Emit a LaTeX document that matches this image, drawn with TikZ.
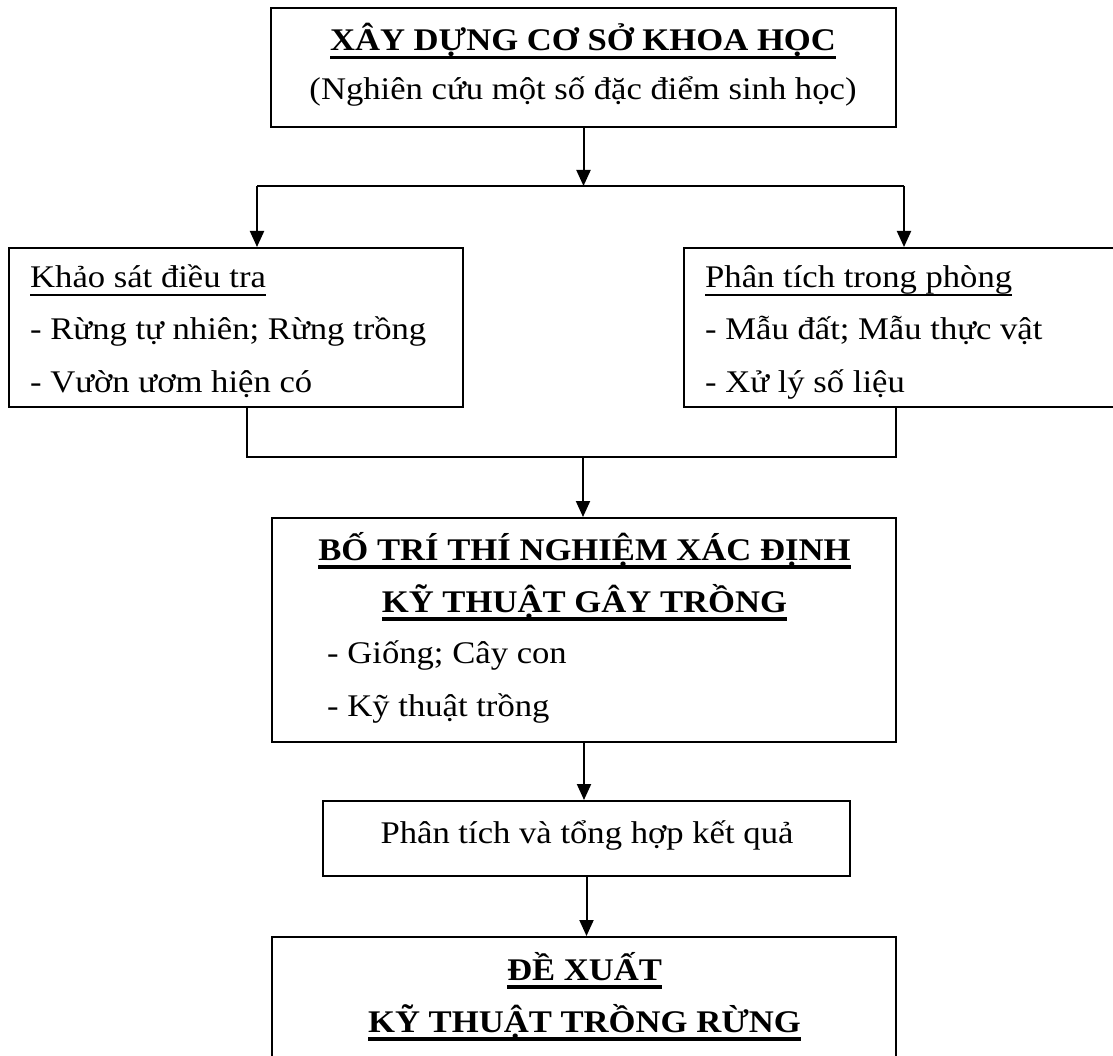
\documentclass[tikz,border=0pt]{standalone}
\usepackage{fontspec}
\setmainfont{Liberation Serif}[FakeStretch=1.1]
\usetikzlibrary{arrows.meta}
\newsavebox\myulbox
% #1 = gap below baseline, #2 = thickness, #3 = text
\newcommand\myul[3]{\sbox\myulbox{#3}\rlap{\vrule height -#1 depth \dimexpr #1+#2\relax width \wd\myulbox}\usebox\myulbox}
\newcommand\bul[1]{\myul{5pt}{3.5pt}{#1}}
\newcommand\rul[1]{\myul{6pt}{2pt}{#1}}
\begin{document}
\begin{tikzpicture}[x=1pt,y=-1pt,
  box/.style={draw, line width=2pt, inner sep=0pt},
  txt/.style={inner sep=0pt, font=\fontsize{31.5}{40}\selectfont},
  btxt/.style={txt, font=\fontsize{31.5}{40}\selectfont\bfseries},
  arr/.style={line width=2pt, -{Triangle[length=16pt,width=14pt]}},
  ln/.style={line width=2pt}]
\useasboundingbox (0,0) rectangle (1113,1056);
\clip (0,0) rectangle (1113,1056);
% boxes
\node[box, minimum width=625pt, minimum height=119pt] (T) at (583.5,67.5) {};
\node[box, minimum width=454.5pt, minimum height=159pt] (L) at (235.75,327.5) {};
\node[box, minimum width=446pt, minimum height=159pt] (R) at (907,327.5) {};
\node[box, minimum width=624pt, minimum height=224pt] (M) at (584,630) {};
\node[box, minimum width=527pt, minimum height=75pt] (S) at (586.5,838.5) {};
\node[box, minimum width=624pt, minimum height=143pt] (B) at (584,1008.5) {};
% texts
\node[btxt, anchor=base] (t1) at (583,51) {\bul{XÂY DỰNG CƠ SỞ KHOA HỌC}};
\node[txt, anchor=base] (t2) at (583,100) {(Nghiên cứu một số đặc điểm sinh học)};
\node[txt, anchor=base west] (l1) at (30,288) {\rul{Khảo sát điều tra}};
\node[txt, anchor=base west] (l2) at (30,340) {- Rừng tự nhiên; Rừng trồng};
\node[txt, anchor=base west] (l3) at (30,392) {- Vườn ươm hiện có};
\node[txt, anchor=base west] (r1) at (705,288) {\rul{Phân tích trong phòng}};
\node[txt, anchor=base west] (r2) at (705,340) {- Mẫu đất; Mẫu thực vật};
\node[txt, anchor=base west] (r3) at (705,392) {- Xử lý số liệu};
\node[btxt, anchor=base] (m1) at (584.5,560) {\bul{BỐ TRÍ THÍ NGHIỆM XÁC ĐỊNH}};
\node[btxt, anchor=base] (m2) at (584.5,612) {\bul{KỸ THUẬT GÂY TRỒNG}};
\node[txt, anchor=base west] (m3) at (327,663) {- Giống; Cây con};
\node[txt, anchor=base west] (m4) at (327,716) {- Kỹ thuật trồng};
\node[txt, anchor=base] (s1) at (587,843) {Phân tích và tổng hợp kết quả};
\node[btxt, anchor=base] (b1) at (584.5,980) {\bul{ĐỀ XUẤT}};
\node[btxt, anchor=base] (b2) at (584.5,1032) {\bul{KỸ THUẬT TRỒNG RỪNG}};
% connectors
\coordinate (jl) at (257,186);
\coordinate (jr) at (904,186);
\draw[arr] (T.south) -- (T.south |- jl);
\draw[ln] (jl) -- (jr);
\draw[arr] (jl) -- (jl |- L.north);
\draw[arr] (jr) -- (jr |- R.north);
\coordinate (kl) at (247,457);
\coordinate (kr) at (896,457);
\coordinate (km) at (583,457);
\draw[ln] (kl |- L.south) -- (kl) -- (kr) -- (kr |- R.south);
\draw[arr] (km) -- (km |- M.north);
\draw[arr] (M.south) -- (M.south |- S.north);
\draw[arr] (S.south) -- (S.south |- B.north);
\end{tikzpicture}
\end{document}
